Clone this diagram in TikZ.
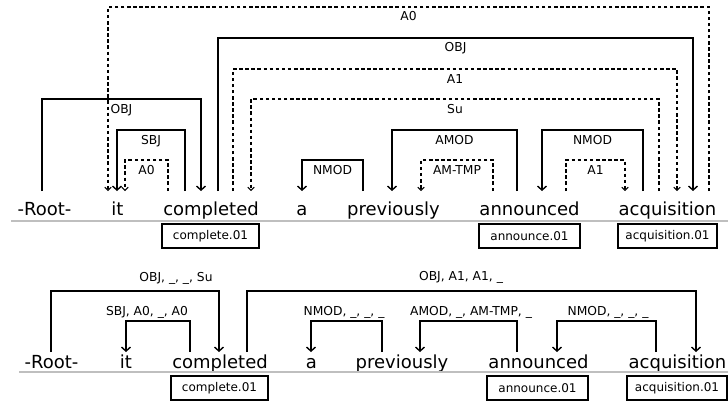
\documentclass[tikz,border=0pt]{standalone}
\usepackage{fontspec}
\setmainfont{DejaVu Sans}
\usetikzlibrary{arrows.meta}
\tikzset{
  word/.style={inner sep=0pt, anchor=base, font=\fontsize{18}{20}\selectfont},
  lbl/.style={inner sep=0pt, anchor=base, font=\fontsize{12.3}{14}\selectfont},
  sense/.style={draw, line width=1.4pt, inner sep=0pt, minimum height=24pt, font=\fontsize{12}{14}\selectfont},
  rule/.style={draw=black!25, line width=1.4pt},
  dep/.style={line width=1.5pt, -{Straight Barb[length=4pt,width=9pt,line width=1.4pt]}},
  srl/.style={line width=1.5pt, dash pattern=on 3.5pt off 2.6pt, -{Straight Barb[length=3pt,width=6.5pt,line width=1.1pt]}},
}
\newcommand\deparc[6]{%
  \coordinate (#2s) at (#3,#6);
  \coordinate (#2t) at (#4,#6);
  \draw[#1] (#2s) -- (#3,#5) -- (#4,#5) -- (#2t);
}
\begin{document}
\begin{tikzpicture}[x=1pt,y=-1pt]
\useasboundingbox[fill=white] (0,0) rectangle (728,412);
% ---------- top tree ----------
\node[word] (t1) at (44.5,215) {-Root-};
\node[word] (t2) at (117.5,215) {it};
\node[word] (t3) at (211,215) {completed};
\node[word] (t4) at (302,215) {a};
\node[word] (t5) at (393.5,215) {previously};
\node[word] (t6) at (529.5,215) {announced};
\node[word] (t7) at (667.5,215) {acquisition};
\coordinate (trl) at (11,221);
\coordinate (trr) at (728,221);
\draw[rule] (trl) -- (trr);
\node[sense, minimum width=97pt] (ts3) at (210.5,236) {complete.01};
\node[sense, minimum width=101pt] (ts6) at (529.5,236) {announce.01};
\node[sense, minimum width=99pt] (ts7) at (667.5,236) {acquisition.01};

\deparc{srl}{ta}{709}{108}{7}{191}
\deparc{dep}{tb}{218}{693}{38}{191}
\deparc{srl}{tc}{233}{677}{69}{191}
\deparc{srl}{td}{659}{251}{99}{191}
\deparc{dep}{te}{42}{201}{99}{191}
\deparc{dep}{tf}{185}{117}{130}{191}
\deparc{srl}{tg}{168}{125}{160}{191}
\deparc{dep}{th}{363}{302}{160}{191}
\deparc{dep}{ti}{517}{392}{130}{191}
\deparc{srl}{tj}{493}{421}{160}{191}
\deparc{dep}{tk}{643}{542}{130}{191}
\deparc{srl}{tl}{566}{625}{160}{191}

\node[lbl] (la) at (408.5,21) {A0};
\node[lbl] (lb) at (455.5,52) {OBJ};
\node[lbl] (lc) at (455,83) {A1};
\node[lbl] (ld) at (455,113) {Su};
\node[lbl] (le) at (121.5,113) {OBJ};
\node[lbl] (lf) at (151,144) {SBJ};
\node[lbl] (lg) at (146.5,174) {A0};
\node[lbl] (lh) at (332.5,174) {NMOD};
\node[lbl] (li) at (454.5,144) {AMOD};
\node[lbl] (lj) at (457,174) {AM-TMP};
\node[lbl] (lk) at (592.5,144) {NMOD};
\node[lbl] (ll) at (595.5,174) {A1};

% ---------- bottom tree ----------
\node[word] (b1) at (51.5,368) {-Root-};
\node[word] (b2) at (126,368) {it};
\node[word] (b3) at (220,368) {completed};
\node[word] (b4) at (311.5,368) {a};
\node[word] (b5) at (402,368) {previously};
\node[word] (b6) at (538.5,368) {announced};
\node[word] (b7) at (677.5,368) {acquisition};
\coordinate (brl) at (19,372);
\coordinate (brr) at (728,372);
\draw[rule] (brl) -- (brr);
\node[sense, minimum width=97pt] (bs3) at (219.5,388) {complete.01};
\node[sense, minimum width=101pt] (bs6) at (537.5,388) {announce.01};
\node[sense, minimum width=100pt] (bs7) at (677,388) {acquisition.01};

\deparc{dep}{ba}{51}{219}{291}{352}
\deparc{dep}{bb}{190}{126}{321}{352}
\deparc{dep}{bc}{247}{696}{291}{352}
\deparc{dep}{bd}{382}{311}{321}{352}
\deparc{dep}{be}{517}{420}{321}{352}
\deparc{dep}{bf}{656}{557}{321}{352}

\node[lbl] (ma) at (176,281) {OBJ, \_, \_, Su};
\node[lbl] (mb) at (147,315) {SBJ, A0, \_, A0};
\node[lbl] (mc) at (461,280) {OBJ, A1, A1, \_};
\node[lbl] (md) at (344,315) {NMOD, \_, \_, \_};
\node[lbl] (me) at (471,315) {AMOD, \_, AM-TMP, \_};
\node[lbl] (mf) at (608,315) {NMOD, \_, \_, \_};
\end{tikzpicture}
\end{document}
